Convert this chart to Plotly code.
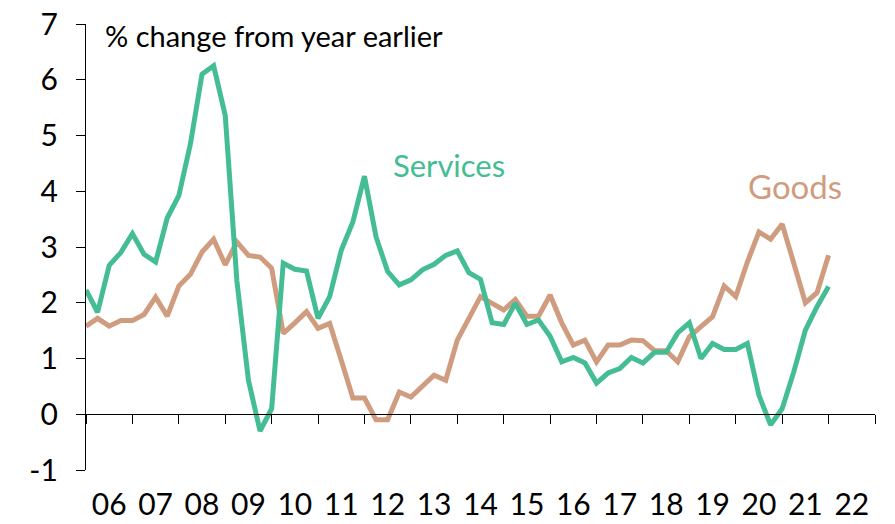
import plotly.graph_objects as go

# Quarterly data, 2006 Q1 onwards (% change from year earlier)
start_year = 2006
services = [2.23, 1.83, 2.67, 2.90, 3.24, 2.87, 2.73, 3.52, 3.92, 4.85,
            6.10, 6.25, 5.36, 2.40, 0.61, -0.30, 0.10, 2.71, 2.60, 2.57,
            1.72, 2.11, 2.94, 3.45, 4.27, 3.18, 2.56, 2.32, 2.41, 2.59,
            2.69, 2.85, 2.93, 2.54, 2.42, 1.64, 1.61, 1.99, 1.61, 1.69,
            1.40, 0.94, 1.02, 0.92, 0.56, 0.74, 0.82, 1.02, 0.92, 1.11,
            1.11, 1.46, 1.64, 1.00, 1.27, 1.16, 1.16, 1.27, 0.34, -0.19,
            0.10, 0.76, 1.51, 1.93, 2.29]
goods = [1.58, 1.72, 1.58, 1.68, 1.68, 1.79, 2.10, 1.76, 2.30, 2.51,
         2.91, 3.14, 2.68, 3.09, 2.85, 2.82, 2.62, 1.45, 1.64, 1.84,
         1.54, 1.63, 0.97, 0.29, 0.29, -0.10, -0.10, 0.40, 0.31, 0.50,
         0.70, 0.61, 1.33, 1.72, 2.11, 1.99, 1.87, 2.06, 1.76, 1.76,
         2.14, 1.64, 1.24, 1.33, 0.94, 1.24, 1.24, 1.33, 1.32, 1.14,
         1.14, 0.94, 1.39, 1.57, 1.75, 2.30, 2.11, 2.73, 3.27, 3.14,
         3.41, 2.71, 2.00, 2.18, 2.85]
year_labels = ['06', '07', '08', '09', '10', '11', '12', '13', '14',
               '15', '16', '17', '18', '19', '20', '21', '22']
y_ticks = [-1, 0, 1, 2, 3, 4, 5, 6, 7]
y_ticktext = ['-1', '0', '1', '2', '3', '4', '5', '6', '7']

GREEN = '#45BD94'
TAN = '#D09C80'
FONT = 'Lato'

x = [start_year + i / 4 for i in range(len(services))]
year_edges = [start_year + i for i in range(len(year_labels) + 1)]
year_mids = [start_year + i + 0.5 for i in range(len(year_labels))]
x_range = [year_edges[0], year_edges[-1]]

fig = go.Figure()
fig.add_trace(go.Scatter(x=x, y=goods, mode='lines', name='Goods',
                         line=dict(color=TAN, width=5)))
fig.add_trace(go.Scatter(x=x, y=services, mode='lines', name='Services',
                         line=dict(color=GREEN, width=5)))
# invisible trace so the label axis gets drawn
fig.add_trace(go.Scatter(x=year_mids, y=[None] * len(year_mids), xaxis='x2',
                         mode='lines', hoverinfo='skip', showlegend=False))

fig.add_annotation(x=2006.37, y=6.79, text='% change from year earlier',
                   showarrow=False, xanchor='left', yanchor='middle',
                   font=dict(family=FONT, size=29, color='black'))
fig.add_annotation(x=2013.82, y=4.47, text='Services', showarrow=False,
                   font=dict(family=FONT, size=31, color=GREEN))
fig.add_annotation(x=2021.28, y=4.09, text='Goods', showarrow=False,
                   font=dict(family=FONT, size=33, color=TAN))

fig.update_layout(
    width=895, height=524,
    margin=dict(l=86, r=20, t=24, b=54),
    plot_bgcolor='white', paper_bgcolor='white',
    showlegend=False,
    xaxis=dict(range=x_range, tickvals=year_edges, showticklabels=False,
               ticks='outside', ticklen=9, tickcolor='black', tickwidth=1.3,
               showline=True, linecolor='black', linewidth=1.3,
               anchor='free', position=0.125, automargin=False,
               showgrid=False, zeroline=False),
    xaxis2=dict(range=x_range, overlaying='x', anchor='y', side='bottom',
                tickvals=year_mids, ticktext=year_labels, ticks='',
                showline=False, showgrid=False, zeroline=False,
                ticklabelstandoff=14, automargin=False,
                tickfont=dict(family=FONT, size=30, color='black')),
    yaxis=dict(range=[-1, 7], tickvals=y_ticks, ticktext=y_ticktext,
               ticks='outside', ticklen=9, tickcolor='black', tickwidth=1.3,
               showline=True, linecolor='black', linewidth=1.3,
               showgrid=False, zeroline=False, ticklabelstandoff=12,
               automargin=False,
               tickfont=dict(family=FONT, size=30, color='black')),
)

# drop the browser's default page margin so the chart fills the window
fig.write_html("out.html", config={'displayModeBar': False},
               post_script="document.body.style.margin='0';")
